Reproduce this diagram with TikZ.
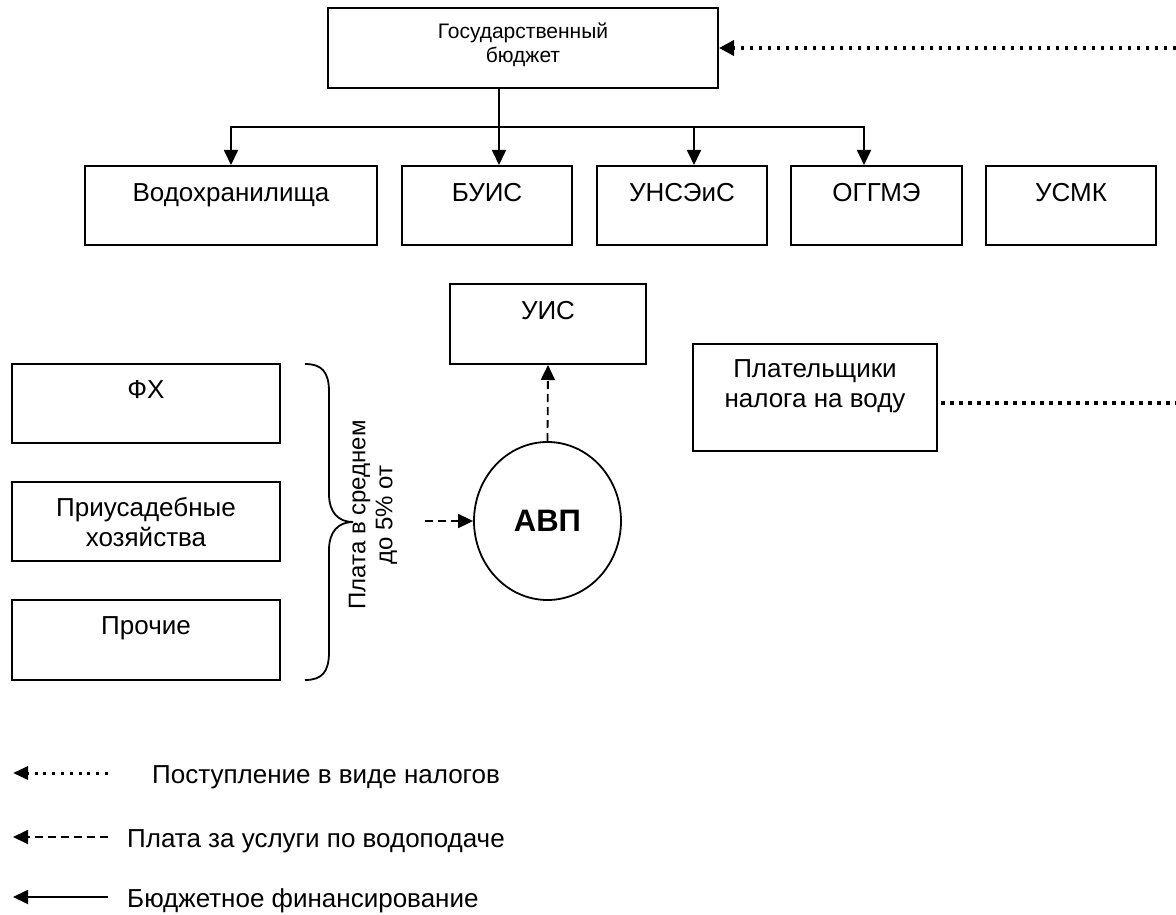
\documentclass[tikz,border=0pt]{standalone}
\usepackage{fontspec}
\setmainfont{Liberation Sans}
\usetikzlibrary{arrows.meta,shapes.geometric}
\tikzset{
  box/.style={draw, line width=2pt, rectangle, inner sep=0pt},
  lbl/.style={anchor=base, font=\fontsize{26}{30}\selectfont, align=center, inner sep=0pt},
  lblw/.style={anchor=base west, font=\fontsize{26}{30}\selectfont, inner sep=0pt},
  tipa/.style={-{Triangle[length=15pt,width=14pt]}},
  fin/.style={line width=1.8pt, tipa},
  tax/.style={line width=3.5pt, dash pattern=on 3.5pt off 5.5pt},
  taxarr/.style={tax, -{Triangle[length=15pt,width=15pt]}},
  pay/.style={line width=1.8pt, dash pattern=on 8pt off 5pt},
  payarr/.style={pay, tipa},
}
\begin{document}
\begin{tikzpicture}[x=1pt,y=-1pt]
\useasboundingbox (0,0) rectangle (1176,915);

% top budget box
\node[box, minimum width=390pt, minimum height=80pt] (gb) at (523,48) {};
\node[lbl, font=\fontsize{21}{24}\selectfont] at (523,63) {Государственный\\бюджет};

% row of boxes
\node[box, minimum width=292pt, minimum height=79pt] (vod) at (231,205.5) {};
\node[lbl] at ([yshift=-36pt]vod.north) {Водохранилища};
\node[box, minimum width=170pt, minimum height=79pt] (buis) at (487,205.5) {};
\node[lbl] at ([yshift=-36pt]buis.north) {БУИС};
\node[box, minimum width=170pt, minimum height=79pt] (unse) at (682,205.5) {};
\node[lbl] at ([yshift=-36pt]unse.north) {УНСЭиС};
\node[box, minimum width=171pt, minimum height=79pt] (oggme) at (876.5,205.5) {};
\node[lbl] at ([yshift=-36pt]oggme.north) {ОГГМЭ};
\node[box, minimum width=170pt, minimum height=79pt] (usmk) at (1071,205.5) {};
\node[lbl] at ([yshift=-36pt]usmk.north) {УСМК};

% budget financing
\coordinate (j) at (499,127);
\draw[fin] (gb.south -| j) -- (j |- buis.north);
\draw[fin] (j) -| (vod.north);
\draw[fin] (j) -| ([xshift=12pt]unse.north);
\draw[fin] (j) -| ([xshift=-12.5pt]oggme.north);

% tax inflow to budget
\coordinate (r1) at (1176,48);
\draw[taxarr] (r1) -- (gb.east);

% UIS and AVP
\node[box, minimum width=196pt, minimum height=80pt] (uis) at (548,324) {};
\node[lbl] at ([yshift=-36pt]uis.north) {УИС};
\node[draw, ellipse, line width=1.8pt, minimum width=147pt, minimum height=158pt, inner sep=0pt,
      font=\fontsize{31}{36}\selectfont\bfseries] (avp) at (547.5,521) {АВП};
\draw[payarr] (avp.north) -- (uis.south);
\coordinate (p) at (425,521);
\draw[payarr] (p) -- (avp.west);

% tax payers
\node[box, minimum width=244pt, minimum height=107pt] (plat) at (815,397.5) {};
\node[lbl] at ([yshift=-64pt]plat.north) {Плательщики\\налога на воду};
\coordinate (r2) at (1176,403);
\draw[tax] (plat.east |- r2) ++(3pt,0) -- (r2);

% left boxes
\node[box, minimum width=268pt, minimum height=79pt] (fx) at (146,403.5) {};
\node[lbl] at ([yshift=-35pt]fx.north) {ФХ};
\node[box, minimum width=268pt, minimum height=79pt] (pri) at (146,521.5) {};
\node[lbl] at ([yshift=-65pt]pri.north) {Приусадебные\\хозяйства};
\node[box, minimum width=268pt, minimum height=80pt] (pro) at (146,640) {};
\node[lbl] at ([yshift=-35pt]pro.north) {Прочие};

% brace
\draw[line width=1.8pt] (305,364) .. controls (322,364) and (329,372) .. (329,392)
  -- (329,494) .. controls (329,512) and (338,522) .. (353,522)
  .. controls (338,522) and (329,532) .. (329,550)
  -- (329,652) .. controls (329,672) and (322,680) .. (305,680);
\node[rotate=90, align=center, font=\fontsize{24}{27}\selectfont, inner sep=0pt] (brl) at (373,515)
  {Плата в среднем\\до 5\% от};

% legend
\coordinate (l1a) at (108,773); \coordinate (l1b) at (13,773);
\draw[line width=3pt, dash pattern=on 3pt off 5.8pt, -{Triangle[length=15pt,width=13pt]}] (l1a) -- (l1b);
\node[lblw] at (152,783) {Поступление в виде налогов};
\coordinate (l2a) at (108,837); \coordinate (l2b) at (13,837);
\draw[payarr] (l2a) -- (l2b);
\node[lblw] at (127,847) {Плата за услуги по водоподаче};
\coordinate (l3a) at (108,897); \coordinate (l3b) at (13,897);
\draw[fin] (l3a) -- (l3b);
\node[lblw] at (127,907) {Бюджетное финансирование};
\end{tikzpicture}
\end{document}
